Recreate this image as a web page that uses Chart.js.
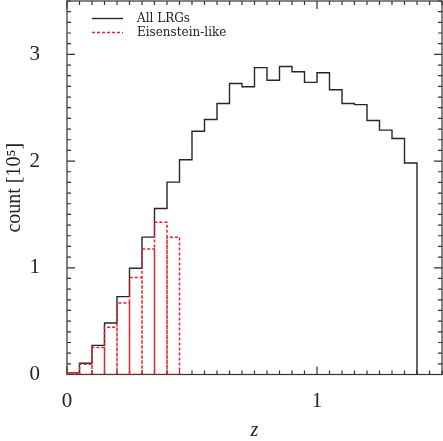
<!DOCTYPE html>
<html>
<head>
<meta charset="utf-8">
<script src="https://cdn.jsdelivr.net/npm/chart.js@4"></script>
<style>
  html, body { margin: 0; padding: 0; background: #fff; }
</style>
</head>
<body>
<canvas id="zHist" width="443" height="441"></canvas>
<script>
// Redshift distribution of the LRG samples (counts in units of 1e5)

const binLeft = [0.00, 0.05, 0.10, 0.15, 0.20, 0.25, 0.30, 0.35, 0.40, 0.45,
                 0.50, 0.55, 0.60, 0.65, 0.70, 0.75, 0.80, 0.85, 0.90, 0.95,
                 1.00, 1.05, 1.10, 1.15, 1.20, 1.25, 1.30, 1.35];
const binWidth = 0.05;

const allLRGs = [0.015, 0.105, 0.273, 0.482, 0.730, 0.996, 1.287, 1.555, 1.803, 2.012,
                 2.280, 2.390, 2.539, 2.727, 2.697, 2.876, 2.757, 2.886, 2.837, 2.737,
                 2.827, 2.668, 2.539, 2.529, 2.380, 2.290, 2.211, 1.982];

const eisensteinLike = [0.015, 0.095, 0.254, 0.442, 0.671, 0.909, 1.177, 1.426, 1.287];

const xTicks = [0, 1];
const yTicks = [0, 1, 2, 3];

const seriesNames = ["All LRGs", "Eisenstein-like"];
const blackCol = "#262626";
const redCol = "#e3232d";

// contour en escalier (sans les traits internes)
function stepOutline(values) {
  const pts = [{ x: binLeft[0], y: 0 }];
  values.forEach((v, i) => {
    pts.push({ x: binLeft[i], y: v });
    pts.push({ x: binLeft[i] + binWidth, y: v });
  });
  pts.push({ x: binLeft[values.length - 1] + binWidth, y: 0 });
  return pts;
}

// chaque barre dessinée comme un rectangle complet
function barOutlines(values) {
  const pts = [];
  values.forEach((v, i) => {
    const x0 = binLeft[i];
    const x1 = x0 + binWidth;
    pts.push({ x: x0, y: 0 }, { x: x0, y: v }, { x: x1, y: v }, { x: x1, y: 0 });
  });
  pts.push({ x: binLeft[0], y: 0 });
  return pts;
}

function isMajor(list, v) {
  return list.some((t) => Math.abs(t - v) < 1e-6);
}

// taille fixe des axes, sans marge ajoutée pour les étiquettes
function fixSize(prop, size) {
  return function (scale) {
    scale[prop] = size;
    scale.paddingTop = 0;
    scale.paddingBottom = 0;
    scale.paddingLeft = 0;
    scale.paddingRight = 0;
  };
}

const frameTicks = {
  id: "frameTicks",
  beforeDatasetsDraw(chart) {
    const { ctx, chartArea: a, scales } = chart;
    ctx.save();
    ctx.strokeStyle = "#333";
    ctx.lineWidth = 1.2;
    ctx.strokeRect(a.left, a.top, a.right - a.left, a.bottom - a.top);
    ctx.beginPath();
    scales.x.ticks.forEach((t) => {
      const px = scales.x.getPixelForValue(t.value);
      const len = isMajor(xTicks, t.value) ? 8 : 4;
      ctx.moveTo(px, a.bottom);
      ctx.lineTo(px, a.bottom - len);
      ctx.moveTo(px, a.top);
      ctx.lineTo(px, a.top + len);
    });
    scales.y.ticks.forEach((t) => {
      const py = scales.y.getPixelForValue(t.value);
      const len = isMajor(yTicks, t.value) ? 8 : 4;
      ctx.moveTo(a.left, py);
      ctx.lineTo(a.left + len, py);
      ctx.moveTo(a.right, py);
      ctx.lineTo(a.right - len, py);
    });
    ctx.stroke();
    ctx.restore();
  },
  afterDraw(chart) {
    // légende en haut à gauche
    const ctx = chart.ctx;
    ctx.save();
    ctx.lineWidth = 1.4;
    ctx.strokeStyle = blackCol;
    ctx.beginPath();
    ctx.moveTo(92, 18.5);
    ctx.lineTo(123, 18.5);
    ctx.stroke();
    ctx.strokeStyle = redCol;
    ctx.lineWidth = 1.5;
    ctx.setLineDash([3, 2]);
    ctx.beginPath();
    ctx.moveTo(92, 32.5);
    ctx.lineTo(123, 32.5);
    ctx.stroke();
    ctx.setLineDash([]);
    ctx.fillStyle = "#222";
    ctx.font = "12px 'DejaVu Serif'";
    ctx.textBaseline = "middle";
    ctx.fillText(seriesNames[0], 137, 19);
    ctx.fillText(seriesNames[1], 137, 33);
    ctx.restore();
  },
};

Chart.defaults.color = "#222";

new Chart(document.getElementById("zHist"), {
  type: "scatter",
  data: {
    datasets: [
      {
        label: seriesNames[1],
        data: barOutlines(eisensteinLike),
        showLine: true,
        borderColor: redCol,
        borderWidth: 1.5,
        borderDash: [3, 2],
        pointRadius: 0,
        order: 0,
      },
      {
        label: seriesNames[0],
        data: stepOutline(allLRGs),
        showLine: true,
        borderColor: blackCol,
        borderWidth: 1.4,
        pointRadius: 0,
        order: 1,
      },
    ],
  },
  options: {
    responsive: false,
    animation: false,
    events: [],
    layout: { padding: { top: 1, right: 1, left: 0, bottom: 0 } },
    plugins: { legend: { display: false }, tooltip: { enabled: false } },
    scales: {
      x: {
        type: "linear",
        min: 0,
        max: 1.5,
        grid: { display: false },
        border: { display: false },
        ticks: {
          stepSize: 0.05,
          autoSkip: false,
          maxRotation: 0,
          padding: 6,
          font: { family: "'Liberation Serif'", size: 21 },
          callback: (v) => (isMajor(xTicks, v) ? String(Math.round(v)) : ""),
        },
        title: {
          display: true,
          text: "z",
          padding: { top: 0, bottom: 0 },
          font: { family: "'Liberation Serif'", size: 20, style: "italic", lineHeight: 1 },
        },
        afterFit: fixSize("height", 66.5),
      },
      y: {
        min: 0,
        max: 3.5,
        grid: { display: false },
        border: { display: false },
        ticks: {
          stepSize: 0.1,
          autoSkip: false,
          padding: 19,
          font: { family: "'Liberation Serif'", size: 21 },
          callback: (v) => (isMajor(yTicks, v) ? String(Math.round(v)) : ""),
        },
        title: {
          display: true,
          text: "count [10⁵]",
          padding: { top: 3, bottom: 0 },
          font: { family: "'Liberation Serif'", size: 20 },
        },
        afterFit: fixSize("width", 67),
      },
    },
  },
  plugins: [frameTicks],
});
</script>
</body>
</html>
